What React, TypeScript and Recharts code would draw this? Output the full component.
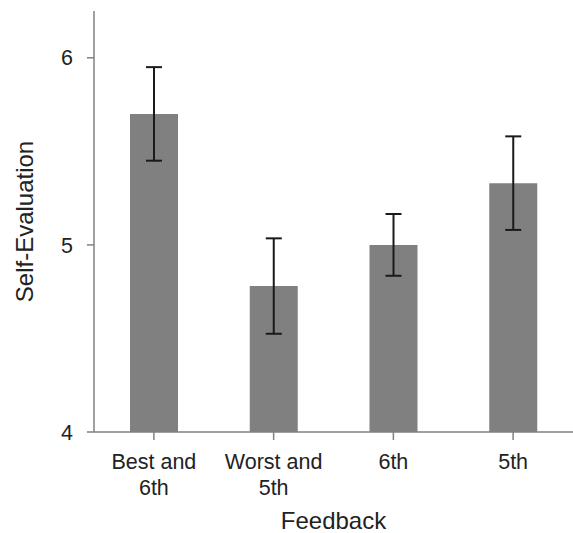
import React from 'react';
import { BarChart, Bar, XAxis, YAxis, ErrorBar, Label } from 'recharts';

const categories = ['Best and\n6th', 'Worst and\n5th', '6th', '5th'];
const means = [5.7, 4.78, 5.0, 5.33];
const errors = [0.25, 0.255, 0.165, 0.25];
const yTicks = [4, 5, 6];

const data = categories.map((c, i) => ({ name: c, value: means[i], err: errors[i] }));

const FONT = 'Liberation Sans, Arial, sans-serif';

const XTick = (props: any) => {
  const { x, y, payload } = props;
  const lines = String(payload.value).split('\n');
  return (
    <text x={x} y={y} textAnchor="middle" fill="#222" fontSize={21.5} fontFamily={FONT}>
      {lines.map((l, i) => (
        <tspan key={i} x={x} dy={i === 0 ? 27 : 26}>{l}</tspan>
      ))}
    </text>
  );
};

export default function App() {
  return (
    <div style={{ position: 'absolute', left: 0, top: 0 }}>
      <BarChart width={573} height={533} data={data} margin={{ top: 11, right: 0, left: 0, bottom: 0 }} barCategoryGap={0}>
        <XAxis
          dataKey="name"
          tick={<XTick />}
          tickLine={{ stroke: '#808080', strokeWidth: 1.5 }}
          axisLine={{ stroke: '#808080', strokeWidth: 1.5 }}
          tickSize={8}
          height={101}
          interval={0}
          scale="band"
        >
          <Label value="Feedback" position="insideBottom" offset={4} fill="#222" fontSize={24} fontFamily={FONT} />
        </XAxis>
        <YAxis
          domain={[4, 6.25]}
          ticks={yTicks}
          width={94}
          tick={{ fill: '#222', fontSize: 21.5, fontFamily: FONT }}
          tickLine={{ stroke: '#808080', strokeWidth: 1.5 }}
          axisLine={{ stroke: '#808080', strokeWidth: 1.5 }}
          tickSize={7}
          tickMargin={14}
          allowDataOverflow
        >
          <Label value="Self-Evaluation" angle={-90} position="insideLeft" offset={24} fill="#222" fontSize={24} fontFamily={FONT} style={{ textAnchor: 'middle' }} />
        </YAxis>
        <Bar dataKey="value" fill="#808080" barSize={48} isAnimationActive={false}>
          <ErrorBar dataKey="err" stroke="#1a1a1a" strokeWidth={2} width={8} />
        </Bar>
      </BarChart>
    </div>
  );
}
